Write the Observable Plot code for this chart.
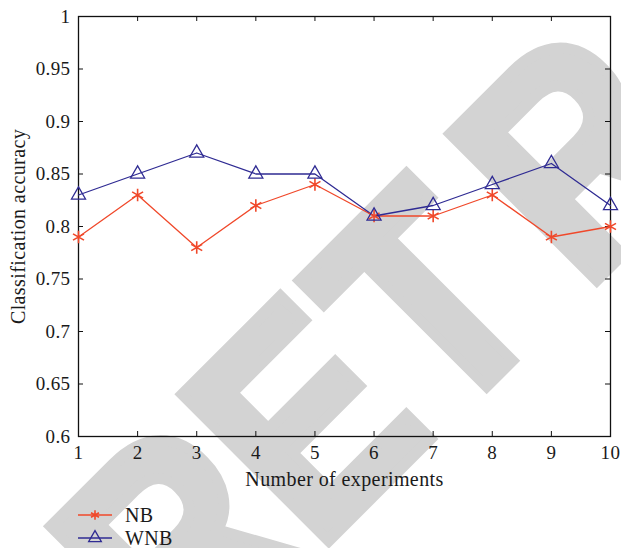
<!DOCTYPE html>
<html>
<head>
<meta charset="utf-8">
<script src="https://cdn.jsdelivr.net/npm/d3@7"></script>
<script src="https://cdn.jsdelivr.net/npm/@observablehq/plot@0.6"></script>
<style>
  html, body { margin: 0; padding: 0; background: #fff; }
  #wrap { position: relative; width: 621px; height: 548px; overflow: hidden; }
  #wm { position: absolute; left: 0; top: 0; z-index: 0; }
  #chart { position: relative; z-index: 1; }
  svg { display: block; }
</style>
</head>
<body>
<div id="wrap">
  <svg id="wm" width="621" height="548"></svg>
  <div id="chart"></div>
</div>
<script>
const experiments = [1, 2, 3, 4, 5, 6, 7, 8, 9, 10];
const nbValues  = [0.79, 0.83, 0.78, 0.82, 0.84, 0.81, 0.81, 0.83, 0.79, 0.80];
const wnbValues = [0.83, 0.85, 0.87, 0.85, 0.85, 0.81, 0.82, 0.84, 0.86, 0.82];
const seriesNames = ["NB", "WNB"];
const xTicks = [1, 2, 3, 4, 5, 6, 7, 8, 9, 10];
const yTicks = [0.6, 0.65, 0.7, 0.75, 0.8, 0.85, 0.9, 0.95, 1];
const xLabel = "Number of experiments";
const yLabel = "Classification accuracy";
const watermarkParts = ["R", "E", "T", "RACTED"];

const colors = { NB: "#f0482a", WNB: "#2f2b93" };
const font = "'Liberation Serif', 'DejaVu Serif', serif";

const rows = [];
experiments.forEach((e, i) => {
  rows.push({ x: e, y: nbValues[i], s: "NB" });
  rows.push({ x: e, y: wnbValues[i], s: "WNB" });
});

// watermark ("RETRACTED", diagonal, background)
const wmOrigins = [[184.5, 685], [316, 553], [443.5, 429], [584, 292.5]];
const wm = d3.select("#wm");
watermarkParts.forEach((t, i) => {
  wm.append("text")
    .attr("transform", `translate(${wmOrigins[i][0]},${wmOrigins[i][1]}) rotate(-45) scale(0.86,1)`)
    .attr("font-family", "'Liberation Sans', Arial, sans-serif")
    .attr("font-weight", "bold")
    .attr("font-size", 300)
    .attr("fill", "#d3d3d3")
    .attr("stroke", "#d3d3d3")
    .attr("stroke-width", 12)
    .attr("stroke-linejoin", "miter")
    .text(t);
});

const W = 621, H = 495, mL = 78, mR = 11, mT = 16, mB = 59;
const pw = W - mL - mR, ph = H - mT - mB;

const chart = Plot.plot({
  width: W, height: H,
  marginLeft: mL, marginRight: mR, marginTop: mT, marginBottom: mB,
  style: { fontFamily: font, fontSize: "19px", background: "transparent", color: "#1a1a1a", overflow: "visible", letterSpacing: "0.4px" },
  x: { domain: [1, 10] },
  y: { domain: [0.6, 1] },
  marks: [
    Plot.axisX(xTicks, { tickSize: 0, tickPadding: 9, label: null, fontSize: 19 }),
    Plot.axisY(yTicks, { tickSize: 0, tickPadding: 8, label: null, fontSize: 19, tickFormat: d => String(+d.toFixed(2)) }),
    Plot.tickX(xTicks, { x: d => d, stroke: "#111", insetTop: ph - 5 }),
    Plot.tickX(xTicks, { x: d => d, stroke: "#111", insetBottom: ph - 5 }),
    Plot.tickY(yTicks, { y: d => d, stroke: "#111", insetRight: pw - 5 }),
    Plot.tickY(yTicks, { y: d => d, stroke: "#111", insetLeft: pw - 5 }),
    Plot.frame({ stroke: "#111", strokeWidth: 1.3 }),
    Plot.line(rows, { x: "x", y: "y", z: "s", stroke: d => colors[d.s], strokeWidth: 1.3 }),
    Plot.dot(rows.filter(d => d.s === "NB"), { x: "x", y: "y", symbol: "asterisk", r: 6, stroke: colors.NB, strokeWidth: 1.6 }),
    Plot.dot(rows.filter(d => d.s === "WNB"), { x: "x", y: "y", symbol: "triangle", r: 5.2, stroke: colors.WNB, fill: "none", strokeWidth: 1.3 }),
    Plot.text([xLabel], { text: d => d, frameAnchor: "bottom", textAnchor: "middle", lineAnchor: "middle", dy: 43, fontSize: 20, fill: "#1a1a1a" }),
    Plot.text([yLabel], { text: d => d, frameAnchor: "left", textAnchor: "middle", lineAnchor: "middle", rotate: -90, dx: -60, fontSize: 20, fill: "#1a1a1a" })
  ]
});
document.getElementById("chart").appendChild(chart);

// legend below the plot
const leg = d3.select("#chart").append("svg").attr("width", W).attr("height", 548 - H)
  .style("overflow", "visible");
seriesNames.forEach((name, i) => {
  const g = leg.append("g").attr("transform", `translate(0,${20 + i * 23})`);
  g.append("line").attr("x1", 78).attr("x2", 112).attr("y1", 0).attr("y2", 0)
    .attr("stroke", colors[name]).attr("stroke-width", 1.3);
  const sym = name === "NB" ? d3.symbolAsterisk : d3.symbolTriangle;
  const size = name === "NB" ? 60 : 70;
  g.append("path").attr("transform", "translate(95,0)")
    .attr("d", d3.symbol(sym, size)())
    .attr("fill", "none")
    .attr("stroke", colors[name]).attr("stroke-width", name === "NB" ? 1.6 : 1.3);
  g.append("text").attr("x", 125).attr("y", 0).attr("dy", "0.35em")
    .attr("font-family", font).attr("font-size", 20).attr("letter-spacing", "0.4px").attr("fill", "#1a1a1a")
    .text(name);
});
</script>
</body>
</html>
